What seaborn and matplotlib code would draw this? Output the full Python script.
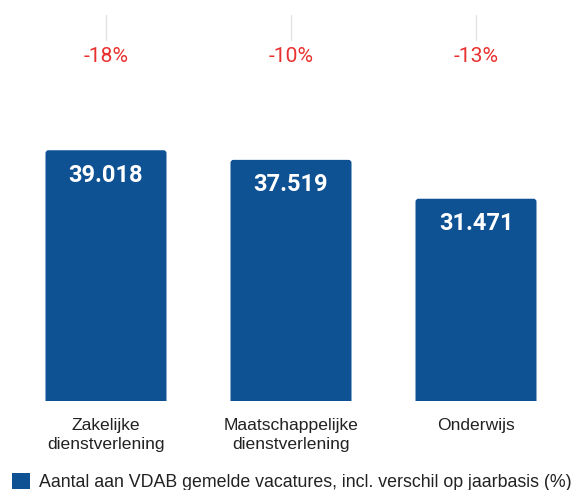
import matplotlib
matplotlib.use("Agg")
import matplotlib.pyplot as plt
import seaborn as sns
import pandas as pd
from matplotlib.patches import Patch, FancyBboxPatch
import matplotlib.transforms as mtransforms

categories = ["Zakelijke\ndienstverlening", "Maatschappelijke\ndienstverlening", "Onderwijs"]
values = [39018, 37519, 31471]
value_labels = ["39.018", "37.519", "31.471"]
changes = ["-18%", "-10%", "-13%"]
legend_label = "Aantal aan VDAB gemelde vacatures, incl. verschil op jaarbasis (%)"

BLUE = "#0f5294"
RED = "#e8312f"

sns.set_theme(style="white")
plt.rcParams['font.family'] = ['Liberation Sans', 'DejaVu Sans']

W, H = 579, 490
PX_X = 1 / 185          # x data units per pixel
PX_Y = 155.6            # y data units per pixel
fig = plt.figure(figsize=(W / 100, H / 100), dpi=100)
ax = fig.add_axes([0, (H - 401) / H, 1, 401 / H])

df = pd.DataFrame({"cat": categories, "val": values})
sns.barplot(data=df, x="cat", y="val", color=BLUE, saturation=1, width=0.654, ax=ax)

ax.set_xlim(-106 * PX_X, (W - 106) * PX_X)
ax.set_ylim(0, 401 * PX_Y)

# rounded top corners
for p in list(ax.patches):
    x0, y0 = p.get_x(), p.get_y()
    w, h = p.get_width(), p.get_height()
    fb = FancyBboxPatch((x0, y0 - 10 * PX_Y), w, h + 10 * PX_Y,
                        boxstyle=f"round,pad=0,rounding_size={3 * PX_X}",
                        mutation_aspect=PX_Y / PX_X,
                        facecolor=BLUE, edgecolor="none")
    p.set_visible(False)
    ax.add_patch(fb)

ax.set_yticks([])
ax.set_xlabel("")
ax.set_ylabel("")
for s in ax.spines.values():
    s.set_visible(False)
ax.tick_params(axis="x", length=0, pad=12, labelsize=12.6, labelcolor="#222222")
for lab in ax.get_xticklabels():
    lab.set_linespacing(1.38)

trans = mtransforms.blended_transform_factory(ax.transData, ax.transAxes)
for i, (v, vl, ch) in enumerate(zip(values, value_labels, changes)):
    ax.annotate(vl, xy=(i, v), xytext=(0, -18), textcoords="offset points",
                ha="center", va="center", color="white", fontsize=17,
                fontweight="bold", family=["Roboto", "DejaVu Sans"])
    ax.text(i, (401 - 57) / 401, ch, transform=trans, ha="center", va="center",
            color=RED, fontsize=15.2, family=["Roboto", "DejaVu Sans"])
    ax.plot([i, i], [(401 - 15) / 401, (401 - 40) / 401], transform=trans,
            color="#e3e3e3", lw=1, clip_on=False)

handle = Patch(facecolor=BLUE, edgecolor="none")
fig.legend([handle], [legend_label], loc="center left",
           bbox_to_anchor=(12 / W, (H - 482) / H),
           frameon=False, fontsize=12.75, handlelength=1.0, handleheight=1.0,
           handletextpad=0.55, borderpad=0, borderaxespad=0,
           labelcolor="#222222")

fig.savefig("out.png", dpi=100)
